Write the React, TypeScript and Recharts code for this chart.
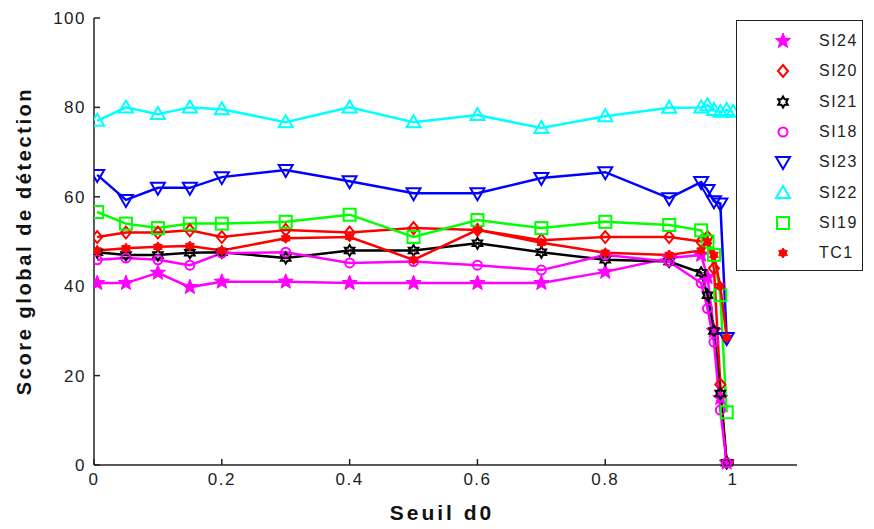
import React from 'react';
import { LineChart, Line, XAxis, YAxis } from 'recharts';

// threshold d0 (x) and the detection score of each method
const X_VALUES = [0.005, 0.05, 0.1, 0.15, 0.2, 0.3, 0.4, 0.5, 0.6, 0.7, 0.8, 0.9, 0.95, 0.96, 0.97, 0.98, 0.99, 1.0];

const SI24 = [40.7, 40.7, 43, 39.8, 41, 41, 40.7, 40.7, 40.7, 40.7, 43.2, 46.3, 47, 42, 30, 15, 0.5, null];
const SI20 = [51, 52, 52, 52.5, 51, 52.6, 52, 53, 52.6, 50.3, 51, 51, 50, 51, 44, 18, 0.5, null];
const SI21 = [47.6, 47, 47, 47.5, 47.6, 46.3, 48, 48, 49.6, 47.6, 45.9, 45.5, 43, 38, 30, 16, 0.5, null];
const SI18 = [45.9, 46.3, 45.9, 44.7, 47.4, 47.6, 45.2, 45.5, 44.7, 43.6, 47, 45.5, 40.7, 35, 27.5, 12.3, 0.5, null];
const SI23 = [64.9, 59.3, 62, 62, 64.4, 66, 63.5, 60.8, 60.8, 64.2, 65.5, 59.7, 63.3, 61.5, 59, 58.5, 28.4, null];
const SI22 = [77, 80, 78.5, 80, 79.6, 76.7, 80, 76.7, 78.3, 75.4, 78, 79.9, 80, 80.5, 79.4, 79, 79.4, 79];
const SI19 = [56.6, 54, 53, 54, 54, 54.4, 56, 51, 54.8, 53, 54.4, 53.7, 52.5, 50, 47, 38, 11.8, null];
const TC1 = [48, 48.5, 48.8, 49, 48, 50.7, 51, 45.9, 52.6, 49.7, 47.5, 47, 48, 50, 47, 40, 28.5, null];

const X_TICKS = [0, 0.2, 0.4, 0.6, 0.8, 1];
const Y_TICKS = [0, 20, 40, 60, 80, 100];

type Shape = 'star' | 'diamond' | 'hexagram' | 'circle' | 'down' | 'up' | 'square' | 'blob';

const SERIES: { key: string; values: (number | null)[]; color: string; shape: Shape }[] = [
  { key: 'SI24', values: SI24, color: '#ff00ff', shape: 'star' },
  { key: 'SI20', values: SI20, color: '#ff0000', shape: 'diamond' },
  { key: 'SI21', values: SI21, color: '#000000', shape: 'hexagram' },
  { key: 'SI18', values: SI18, color: '#ff00ff', shape: 'circle' },
  { key: 'SI23', values: SI23, color: '#0000ff', shape: 'down' },
  { key: 'SI22', values: SI22, color: '#00ffff', shape: 'up' },
  { key: 'SI19', values: SI19, color: '#00ff00', shape: 'square' },
  { key: 'TC1', values: TC1, color: '#ff0000', shape: 'blob' },
];

const rows = X_VALUES.map((x, i) => {
  const row: Record<string, number | null> = { x };
  SERIES.forEach((s) => (row[s.key] = s.values[i]));
  return row;
});

function starPoints(cx: number, cy: number, n: number, R: number, r: number) {
  const pts: string[] = [];
  for (let k = 0; k < n * 2; k++) {
    const a = (-90 + (k * 180) / n) * (Math.PI / 180);
    const rad = k % 2 === 0 ? R : r;
    pts.push(`${cx + rad * Math.cos(a)},${cy + rad * Math.sin(a)}`);
  }
  return pts.join(' ');
}

function Marker({ shape, cx, cy, color }: { shape: Shape; cx: number; cy: number; color: string }) {
  const sw = 2;
  switch (shape) {
    case 'star':
      return <polygon points={starPoints(cx, cy, 5, 8, 3.4)} fill={color} stroke={color} strokeWidth={1} />;
    case 'diamond':
      return <polygon points={`${cx},${cy - 6} ${cx + 5},${cy} ${cx},${cy + 6} ${cx - 5},${cy}`} fill="none" stroke={color} strokeWidth={sw} />;
    case 'hexagram':
      return <polygon points={starPoints(cx, cy, 6, 5.5, 3.2)} fill="none" stroke={color} strokeWidth={sw} />;
    case 'circle':
      return <circle cx={cx} cy={cy} r={4.5} fill="none" stroke={color} strokeWidth={sw} />;
    case 'down':
      return <polygon points={`${cx - 7},${cy - 5} ${cx + 7},${cy - 5} ${cx},${cy + 7}`} fill="none" stroke={color} strokeWidth={sw} />;
    case 'up':
      return <polygon points={`${cx - 7},${cy + 5} ${cx + 7},${cy + 5} ${cx},${cy - 7}`} fill="none" stroke={color} strokeWidth={sw} />;
    case 'square':
      return <rect x={cx - 6} y={cy - 6} width={12} height={12} fill="none" stroke={color} strokeWidth={sw} />;
    case 'blob':
      return <polygon points={starPoints(cx, cy, 6, 5, 3.2)} fill={color} stroke={color} strokeWidth={1} />;
  }
}

const FONT = 'Arial, "Liberation Sans", sans-serif';
const TICK_STYLE = { fill: '#222', fontSize: 17, fontFamily: FONT, letterSpacing: 1.5 };

export default function App() {
  return (
    <div style={{ position: 'absolute', left: 0, top: 0, width: 874, height: 529, background: '#fff' }}>
      <LineChart width={874} height={529} data={rows} margin={{ top: 18, right: 77, left: 0, bottom: 0 }}>
        <XAxis
          type="number"
          dataKey="x"
          domain={[0, 1.1]}
          ticks={X_TICKS}
          allowDataOverflow
          height={64}
          tick={TICK_STYLE}
          tickSize={-6}
          tickMargin={14}
          tickFormatter={(v) => `${v}`}
          axisLine={{ stroke: '#222', strokeWidth: 1.5 }}
          tickLine={{ stroke: '#222', strokeWidth: 1.5 }}
        />
        <YAxis
          type="number"
          domain={[0, 100]}
          ticks={Y_TICKS}
          width={94}
          tick={TICK_STYLE}
          tickSize={-6}
          tickMargin={14}
          axisLine={{ stroke: '#222', strokeWidth: 1.5 }}
          tickLine={{ stroke: '#222', strokeWidth: 1.5 }}
        />
        {SERIES.map((s) => (
          <Line
            key={s.key}
            type="linear"
            dataKey={s.key}
            stroke={s.color}
            strokeWidth={2.5}
            isAnimationActive={false}
            dot={(p: any) =>
              p.cy == null || p.value == null ? (
                <g key={`${s.key}-${p.index}`} />
              ) : (
                <g key={`${s.key}-${p.index}`}>
                  <Marker shape={s.shape} cx={p.cx} cy={p.cy} color={s.color} />
                </g>
              )
            }
            activeDot={false}
          />
        ))}
      </LineChart>

      {/* axis titles */}
      <div
        style={{
          position: 'absolute',
          left: 24,
          top: 241,
          transform: 'translate(-50%, -50%) rotate(-90deg)',
          whiteSpace: 'nowrap',
          fontFamily: FONT,
          fontWeight: 'bold',
          fontSize: 20,
          letterSpacing: 2.6,
          color: '#111',
        }}
      >
        Score global de détection
      </div>
      <div
        style={{
          position: 'absolute',
          left: 442,
          top: 513,
          transform: 'translate(-50%, -50%)',
          whiteSpace: 'nowrap',
          fontFamily: FONT,
          fontWeight: 'bold',
          fontSize: 21,
          letterSpacing: 3,
          color: '#111',
        }}
      >
        Seuil d0
      </div>

      {/* legend box drawn over the lines */}
      <div
        style={{
          position: 'absolute',
          left: 736,
          top: 20,
          width: 127,
          height: 251,
          border: '1px solid #222',
          background: '#fff',
          boxSizing: 'border-box',
          paddingTop: 5,
        }}
      >
        {SERIES.map((s) => (
          <div key={s.key} style={{ display: 'flex', alignItems: 'center', height: 30.3 }}>
            <svg width={82} height={24} style={{ display: 'block' }}>
              <Marker shape={s.shape} cx={46} cy={12} color={s.color} />
            </svg>
            <span style={{ fontFamily: FONT, fontSize: 16, letterSpacing: 1.5, color: '#222' }}>{s.key}</span>
          </div>
        ))}
      </div>
    </div>
  );
}
